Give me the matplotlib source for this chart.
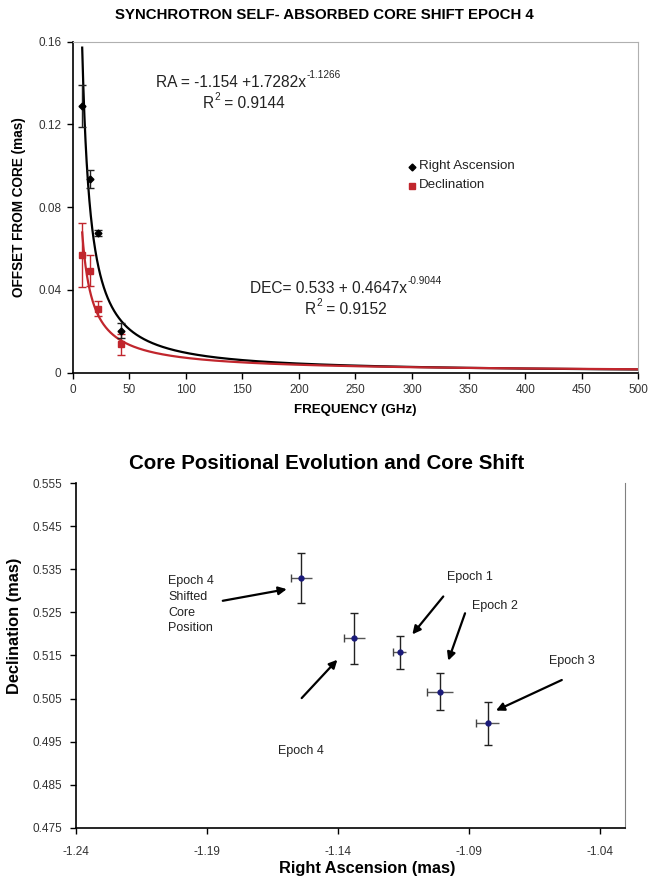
import numpy as np
import matplotlib
matplotlib.use("Agg")
import matplotlib.pyplot as plt
from matplotlib.transforms import IdentityTransform

plt.rcParams['font.family'] = ['Liberation Sans', 'DejaVu Sans']

# ---- core shift vs frequency (epoch 4) ----
freq_ghz = [8.4, 15.4, 22.2, 43.1]
ra_offset = [0.129, 0.0937, 0.0676, 0.0204]
ra_err = [0.0102, 0.0045, 0.0013, 0.0035]
dec_offset = [0.0571, 0.0494, 0.0310, 0.0137]
dec_err = [0.0155, 0.0075, 0.0035, 0.0050]

ra_fit = (-1.154, 1.7282, -1.1266, 0.9144)   # position, amplitude, index, R^2
dec_fit = (0.533, 0.4647, -0.9044, 0.9152)

freq_ticks = [0, 50, 100, 150, 200, 250, 300, 350, 400, 450, 500]
offset_ticks = [0, 0.04, 0.08, 0.12, 0.16]
offset_tick_labels = ['0', '0.04', '0.08', '0.12', '0.16']

# ---- core positions per epoch ----
epoch_names = ['Epoch 4\nShifted\nCore\nPosition', 'Epoch 4', 'Epoch 1', 'Epoch 2', 'Epoch 3']
pos_ra = [-1.154, -1.1337, -1.1164, -1.1010, -1.0829]
pos_dec = [0.533, 0.5190, 0.5157, 0.5066, 0.4993]
pos_ra_err = [0.0040, 0.0040, 0.0024, 0.0050, 0.0045]
pos_dec_err = [0.0058, 0.0059, 0.0039, 0.0043, 0.0050]

ra_ticks = [-1.24, -1.19, -1.14, -1.09, -1.04]
dec_ticks = [0.475, 0.485, 0.495, 0.505, 0.515, 0.525, 0.535, 0.545, 0.555]

RED = '#C1262D'
TICK_COL = '#333333'
TXT_COL = '#222222'
W, H = 649, 882

fig = plt.figure(figsize=(W / 100, H / 100), dpi=100)
renderer = fig.canvas.get_renderer()


def pixel_text(s, fs):
    return fig.text(0, 0, s, fontsize=fs, color=TXT_COL, transform=IdentityTransform(),
                    va='baseline', ha='left')


def sup_label(cx, base_y, parts, fs, sup_fs, raise_px):
    """centred run of text pieces; pieces flagged True are raised exponents"""
    items = []
    for s, is_sup in parts:
        t = pixel_text(s, sup_fs if is_sup else fs)
        items.append((t, is_sup, t.get_window_extent(renderer).width))
    total = sum(w for _, _, w in items) + 0.5 * (len(items) - 1)
    x = cx - total / 2
    for t, is_sup, w in items:
        t.set_position((x, H - base_y + (raise_px if is_sup else 0)))
        x += w + 0.5


# ================= top panel =================
ax1 = fig.add_axes([0.112, 0.5774, 0.8715, 0.3753])
fgrid = np.linspace(freq_ghz[0], 500, 2000)
ax1.plot(fgrid, ra_fit[1] * fgrid ** ra_fit[2], color='black', lw=1.6, zorder=2)
ax1.plot(fgrid, dec_fit[1] * fgrid ** dec_fit[2], color=RED, lw=1.6, zorder=2)
ax1.errorbar(freq_ghz, ra_offset, yerr=ra_err, fmt='D', color='black', ms=3.5,
             ecolor='#222222', elinewidth=1.0, capsize=3, capthick=1.0, zorder=4)
ax1.errorbar(freq_ghz, dec_offset, yerr=dec_err, fmt='s', color=RED, ms=5,
             ecolor=RED, elinewidth=1.0, capsize=3, capthick=1.0, zorder=3)

ax1.set_xlim(0, 500)
ax1.set_ylim(0, 0.16)
ax1.set_xticks(freq_ticks)
ax1.set_yticks(offset_ticks)
ax1.set_yticklabels(offset_tick_labels)
ax1.tick_params(axis='both', direction='out', length=4, width=1, labelsize=8.5,
                labelcolor=TICK_COL, pad=4)
ax1.spines['top'].set_color('#b0b0b0')
ax1.spines['right'].set_color('#b0b0b0')
for s in ('left', 'bottom'):
    ax1.spines[s].set_color('black')
    ax1.spines[s].set_linewidth(1.2)

ax1.set_xlabel('FREQUENCY (GHz)', fontsize=9.6, fontweight='bold', labelpad=6)
ax1.set_ylabel('OFFSET FROM CORE (mas)', fontsize=9.8, fontweight='bold', labelpad=9)
fig.text(0.5, 0.983, 'SYNCHROTRON SELF- ABSORBED CORE SHIFT EPOCH 4',
         ha='center', va='center', fontsize=10.8, fontweight='bold')

sup_label(248, 87, [('RA = %.3f +%.4fx' % ra_fit[:2], False), ('%.4f' % ra_fit[2], True)],
          11.2, 7.2, 8.5)
sup_label(244, 108.5, [('R', False), ('2', True), (' = %.4f' % ra_fit[3], False)],
          11.2, 7.2, 8.5)
sup_label(346, 293, [('DEC= %.3f + %.4fx' % dec_fit[:2], False), ('%.4f' % dec_fit[2], True)],
          11.2, 7.2, 8.5)
sup_label(346, 314, [('R', False), ('2', True), (' = %.4f' % dec_fit[3], False)],
          11.2, 7.2, 8.5)

# legend placed to the right of the curves
leg_items = [('D', 'black', 3.5, 'Right Ascension', 166.5),
             ('s', RED, 5, 'Declination', 185.5)]
for mk, col, ms, lab, yy in leg_items:
    fig.lines.append(plt.Line2D([411.5], [H - yy], marker=mk, color=col, ms=ms, ls='none',
                                transform=IdentityTransform(), figure=fig))
    fig.text(419, H - yy, lab, fontsize=9.6, color=TXT_COL, va='center', ha='left',
             transform=IdentityTransform())

# ================= bottom panel =================
ax2 = fig.add_axes([0.1166, 0.0616, 0.8464, 0.3905])
# vertical bars with both caps, horizontal bars capped on the left end only
ax2.errorbar(pos_ra, pos_dec, yerr=pos_dec_err, fmt='none', ecolor='#222222',
             elinewidth=1.0, capsize=3, capthick=1.0, zorder=2)
ax2.errorbar(pos_ra, pos_dec, xerr=pos_ra_err, fmt='none', ecolor='#555555',
             elinewidth=1.0, capsize=0, zorder=2)
ax2.plot(np.array(pos_ra) - np.array(pos_ra_err), pos_dec, ls='none', marker='|',
         ms=6, mew=1.0, color='#444444', zorder=2)
ax2.plot(pos_ra, pos_dec, ls='none', marker='o', ms=3.5, color='#1a1a7a', zorder=3)

ax2.set_xlim(-1.24, -1.0305)
ax2.set_ylim(0.475, 0.555)
ax2.set_xticks(ra_ticks)
ax2.set_yticks(dec_ticks)
ax2.set_xticklabels(['%.2f' % v for v in ra_ticks])
ax2.set_yticklabels(['%.3f' % v for v in dec_ticks])
ax2.tick_params(axis='both', direction='out', length=4, width=1, labelsize=8.5,
                labelcolor=TICK_COL)
ax2.tick_params(axis='x', pad=9)
ax2.tick_params(axis='y', pad=6)
ax2.spines['top'].set_visible(False)
ax2.spines['right'].set_color('#808080')
for s in ('left', 'bottom'):
    ax2.spines[s].set_color('black')
    ax2.spines[s].set_linewidth(1.2)

ax2.set_xlabel('Right Ascension (mas)', fontsize=11.8, fontweight='bold')
ax2.xaxis.set_label_coords(0.530, -0.098)
ax2.set_ylabel('Declination (mas)', fontsize=11.8, fontweight='bold')
ax2.yaxis.set_label_coords(-0.098, 0.585)
fig.text(0.503, 0.475, 'Core Positional Evolution and Core Shift',
         ha='center', va='center', fontsize=14.8, fontweight='bold')

# epoch labels with arrows (text corner, arrow tail, arrow head in data units)
label_text_pos = [(-1.2048, 0.5336), (-1.1628, 0.4942), (-1.0985, 0.5347),
                  (-1.0890, 0.5279), (-1.0594, 0.5151)]
arrow_tail = [(-1.1839, 0.5277), (-1.1538, 0.5051), (-1.0998, 0.5287),
              (-1.0915, 0.5248), (-1.0546, 0.5093)]
arrow_head = [(-1.1595, 0.5304), (-1.1402, 0.5140), (-1.1116, 0.5199),
              (-1.0979, 0.5138), (-1.0797, 0.5022)]
for name, tp, tail, head in zip(epoch_names, label_text_pos, arrow_tail, arrow_head):
    ax2.text(tp[0], tp[1], name, ha='left', va='top', fontsize=9,
             color=TXT_COL, linespacing=1.4)
    ax2.annotate('', xy=head, xytext=tail,
                 arrowprops=dict(arrowstyle='-|>', color='black', lw=1.6,
                                 mutation_scale=12, shrinkA=0, shrinkB=0))

fig.savefig('out.png', dpi=100)
